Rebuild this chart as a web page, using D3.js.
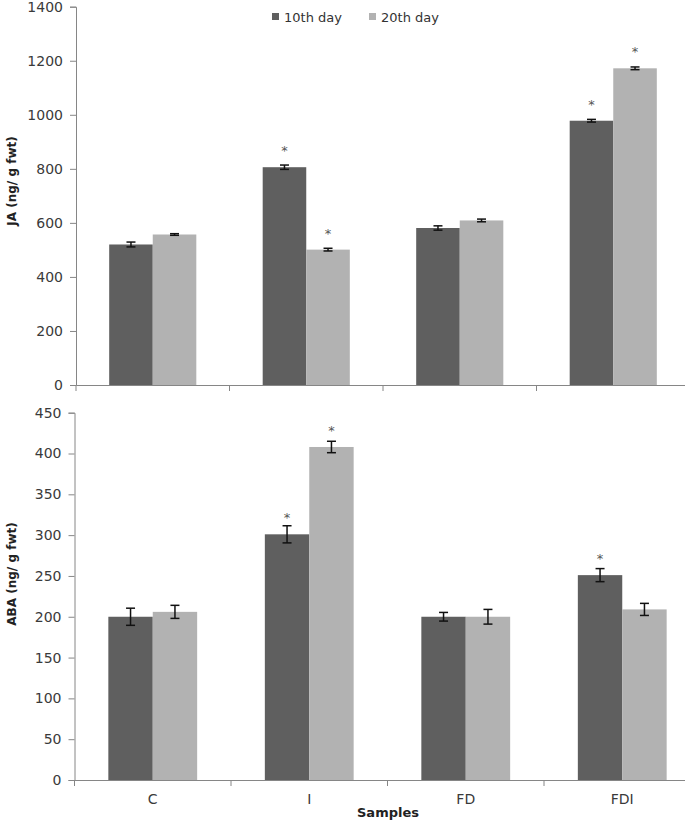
<!DOCTYPE html>
<html><head><meta charset="utf-8">
<script src="https://cdn.jsdelivr.net/npm/d3@7"></script>
<style>
body{margin:0;background:#fff;}
svg{display:block;}
.tick text{font-family:"DejaVu Sans",sans-serif;font-size:14px;fill:#3a3a3a;}
</style></head>
<body><svg id="c" width="685" height="822"></svg>
<script>
const categories = ["C", "I", "FD", "FDI"];
const seriesNames = ["10th day", "20th day"];
const jaDay10 = [520, 806, 581, 978];
const jaDay20 = [557, 501, 609, 1172];
const jaErr10 = [9, 8, 8, 5];
const jaErr20 = [3, 5, 5, 5];
const jaSig10 = [false, true, false, true];
const jaSig20 = [false, true, false, true];
const abaDay10 = [200, 301, 200, 251];
const abaDay20 = [206, 408, 200, 209];
const abaErr10 = [10.5, 10.5, 5.3, 8];
const abaErr20 = [8, 7, 9, 7.4];
const abaSig10 = [false, true, false, true];
const abaSig20 = [false, true, false, false];
const jaTicks = [0, 200, 400, 600, 800, 1000, 1200, 1400];
const abaTicks = [0, 50, 100, 150, 200, 250, 300, 350, 400, 450];
const colors = ["#5f5f5f", "#b2b2b2"];

const svg = d3.select("#c");

function panel(opts) {
  const x0 = d3.scaleBand().domain(categories).range(opts.xr).padding(0);
  const x1 = d3.scaleBand().domain(seriesNames).range([0, x0.bandwidth()]).paddingOuter(0.762).paddingInner(0);
  const y = d3.scaleLinear().domain([0, opts.max]).range(opts.yr);
  const g = svg.append("g");
  const data = [];
  categories.forEach((c, i) => {
    opts.vals.forEach((arr, s) => {
      data.push({c, s: seriesNames[s], v: arr[i], e: opts.errs[s][i], sig: opts.sigs[s][i], col: colors[s]});
    });
  });
  g.selectAll("rect.bar").data(data).enter().append("rect")
    .attr("x", d => x0(d.c) + x1(d.s))
    .attr("width", x1.bandwidth())
    .attr("y", d => y(d.v))
    .attr("height", d => y(0) - y(d.v))
    .attr("fill", d => d.col);
  const ya = d3.axisLeft(y).tickValues(opts.ticks).tickFormat(d3.format("d")).tickSize(6).tickPadding(7);
  const yg = g.append("g").attr("transform", `translate(${opts.xr[0]},0)`).call(ya);
  yg.select(".domain").attr("stroke", "#868686");
  yg.selectAll(".tick line").attr("stroke", "#868686");
  const xa = d3.axisBottom(x0).tickSize(0).tickFormat(opts.showCats ? (d => d) : () => "");
  const xg = g.append("g").attr("transform", `translate(0,${y(0)})`).call(xa);
  xg.select(".domain").attr("stroke", "#868686");
  xg.selectAll(".tick text").attr("dy", "1.5em");
  g.selectAll("line.bt").data(categories).enter().append("line")
    .attr("x1", d => x0(d)).attr("x2", d => x0(d))
    .attr("y1", y(0)).attr("y2", y(0) + 6)
    .attr("stroke", "#868686");
  const eb = g.selectAll("g.eb").data(data).enter().append("g")
    .attr("transform", d => `translate(${x0(d.c) + x1(d.s) + x1.bandwidth() / 2},0)`);
  eb.append("line").attr("y1", d => y(d.v - d.e)).attr("y2", d => y(d.v + d.e)).attr("stroke", "#111").attr("stroke-width", 1.5);
  eb.append("line").attr("x1", -4.5).attr("x2", 4.5).attr("y1", d => y(d.v - d.e)).attr("y2", d => y(d.v - d.e)).attr("stroke", "#111").attr("stroke-width", 1.5);
  eb.append("line").attr("x1", -4.5).attr("x2", 4.5).attr("y1", d => y(d.v + d.e)).attr("y2", d => y(d.v + d.e)).attr("stroke", "#111").attr("stroke-width", 1.5);
  eb.filter(d => d.sig).append("text").text("*")
    .attr("y", d => y(d.v) - 12)
    .attr("text-anchor", "middle")
    .attr("font-family", "DejaVu Sans, sans-serif").attr("font-size", 13).attr("fill", "#555");
  svg.append("text").text(opts.title)
    .attr("transform", `translate(16,${opts.titleY}) rotate(-90)`)
    .attr("text-anchor", "middle")
    .attr("font-family", "DejaVu Sans, sans-serif").attr("font-weight", "bold").attr("font-size", 12).attr("fill", "#222");
  return {x0, y};
}

panel({xr: [76, 690], yr: [385, 6.7], max: 1400, ticks: jaTicks,
  vals: [jaDay10, jaDay20], errs: [jaErr10, jaErr20], sigs: [jaSig10, jaSig20],
  title: "JA (ng/ g fwt)", titleY: 181, showCats: false});
panel({xr: [74.5, 700.5], yr: [780, 412.7], max: 450, ticks: abaTicks,
  vals: [abaDay10, abaDay20], errs: [abaErr10, abaErr20], sigs: [abaSig10, abaSig20],
  title: "ABA (ng/ g fwt)", titleY: 574, showCats: true});

svg.append("text").text("Samples").attr("x", 388).attr("y", 817).attr("text-anchor", "middle")
  .attr("font-family", "DejaVu Sans, sans-serif").attr("font-weight", "bold").attr("font-size", 13).attr("fill", "#222");

const leg = svg.append("g").attr("transform", "translate(272,10)");
const li = leg.selectAll("g").data(seriesNames).enter().append("g")
  .attr("transform", (d, i) => `translate(${i * 97},0)`);
li.append("rect").attr("width", 7).attr("height", 7).attr("y", 3).attr("fill", (d, i) => colors[i]);
li.append("text").text(d => d).attr("x", 12).attr("y", 12)
  .attr("font-family", "DejaVu Sans, sans-serif").attr("font-size", 13).attr("fill", "#333");
</script></body></html>
